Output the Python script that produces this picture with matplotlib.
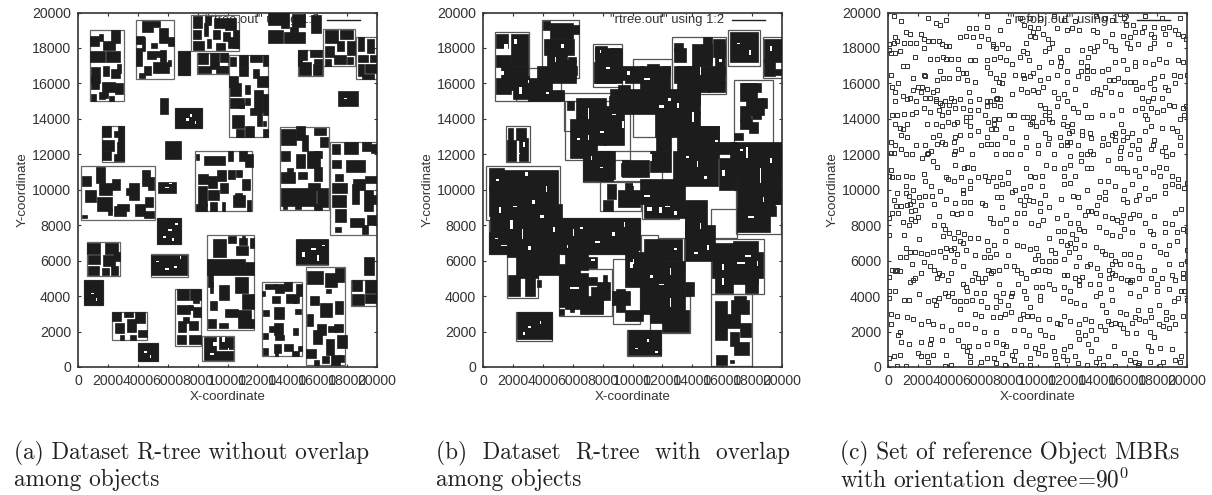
import matplotlib
matplotlib.use('Agg')
import matplotlib.pyplot as plt
from matplotlib.patches import Rectangle
from matplotlib.path import Path

plt.rcParams['font.family'] = ['Liberation Sans', 'DejaVu Sans']
plt.rcParams['mathtext.fontset'] = 'cm'

# all coordinates below are in hundreds of map units
tick_values = [0, 2000, 4000, 6000, 8000, 10000, 12000, 14000, 16000, 18000, 20000]
captions = [
    ['(a) Dataset R-tree without overlap', 'among objects'],
    ['(b)  Dataset  R-tree  with  overlap', 'among objects'],
    ['(c) Set of reference Object MBRs', 'with orientation degree=90$^0$'],
]
legend_labels = ['"rtree.out" using 1:2', '"rtree.out" using 1:2', '"refobj.out" using 1:2']

# (x0, y0, x1, y1)
nodes_a = [
    (8, 150, 30.5, 190), (38.5, 162.5, 64, 195.5), (75.6, 178, 108, 198.5), (67, 165, 75, 178.5),
    (79.6, 165.5, 100.3, 177), (101, 129.5, 127, 176), (147, 164, 163.7, 179), (164, 170, 185, 190.5),
    (186, 162.5, 200, 186), (64.7, 134.7, 82.9, 146), (15.8, 115.5, 31, 136), (2.2, 83, 51.7, 113.6),
    (78.5, 88, 116.4, 122), (135.3, 88.8, 167.7, 135.6), (168.8, 74.7, 200, 127.2), (52.8, 69.5, 69.1, 84.2),
    (5.8, 51.5, 27.9, 70.5), (48.8, 51, 73.4, 63.7), (86.3, 21, 117.5, 74.4), (146, 57.5, 167.2, 71.8),
    (152.5, 1, 178.4, 56.4), (182.6, 34.5, 199.5, 49), (123.3, 6, 149.8, 47.7), (64.7, 11.7, 82, 44.2),
    (4.2, 35, 16.7, 49), (22.5, 15, 45.9, 31), (40, 3.4, 53.5, 13.7), (83.2, 3.4, 104.6, 17.3),
]
# (x, y, w, h)
objects_a = [
    (22, 183, 6, 7), (8, 181, 6, 6), (14, 184, 3, 4), (17, 179, 8, 5), (8, 172, 10, 6), (19, 172, 9, 6),
    (9, 160, 6, 9), (17, 164, 4, 6), (22, 163, 6, 5), (9, 157, 5, 7), (16, 155, 9, 6), (25, 154, 5, 6),
    (9, 150, 3, 4), (14, 151, 4, 4), (21, 150, 3, 3), (26, 166, 3, 5), (17, 152, 3, 3),
    (43, 189, 7, 6), (50, 192, 5, 3), (39, 182, 5, 5), (54, 183, 6, 8), (60, 181, 4, 5), (39, 170, 4, 10),
    (46, 174, 6, 4), (52, 175, 6, 3), (55, 172, 4, 7), (44, 165, 5, 5), (50, 166, 11, 6), (41, 163, 4, 3),
    (43, 178, 2, 8), (49, 180, 4, 3), (60, 170, 2, 3),
    (77, 191, 6, 7), (85, 193, 4, 5), (91, 191, 7, 6), (98, 190, 8, 7), (77, 185, 5, 5), (84, 187, 3, 7),
    (90, 185, 5, 5), (97, 184, 5, 5), (77, 179, 7, 5), (86, 180, 3, 5), (92, 179, 6, 4), (100, 180, 7, 6),
    (104, 180, 4, 10), (67, 165, 8, 13),
    (80, 171, 7, 6), (88, 168, 6, 9), (95, 172, 5, 5), (80, 166, 9, 4), (92, 166, 8, 4), (95, 168, 4, 2),
    (102, 170, 4, 5), (108, 169, 6, 7), (115, 172, 8, 4), (124, 170, 3, 6), (108, 164, 6, 5), (117, 163, 4, 5),
    (120, 158, 7, 6), (102, 153, 7, 7), (112, 154, 3, 5), (102, 146, 9, 6), (118, 144, 6, 12), (124, 142, 3, 12),
    (108, 146, 3, 3), (112, 148, 3, 4), (115, 142, 5, 4), (120, 136, 3, 8), (103, 135, 8, 7), (106, 130, 5, 4),
    (112, 130, 6, 6), (124, 130, 3, 4), (124, 136, 2, 3), (101, 158, 6, 6),
    (127, 193, 9, 7), (136, 191, 5, 9), (143, 192, 9, 7), (127, 183, 10, 7), (138, 183, 14, 6), (142, 189, 5, 3),
    (156, 188.5, 6.5, 10),
    (147, 173, 6, 6), (155, 175, 8, 4), (148, 165, 8, 7), (157, 165, 6, 6), (158, 171, 5, 3), (147, 170, 3, 5),
    (165, 183, 9, 7), (175, 185, 9, 5), (165, 175, 6, 6), (173, 178, 5, 6), (180, 176, 5, 8), (165, 170, 4, 4),
    (171, 171, 8, 5), (180, 171, 4, 4),
    (187, 178, 4, 8), (193, 177, 5, 8), (187, 172, 7, 4), (195, 172, 4, 4), (187, 164, 4, 7), (192, 166, 8, 5),
    (190, 162.5, 8, 3), (174, 147.5, 13, 8), (54.6, 142.5, 5.6, 9), (64.7, 134.7, 18.2, 11.3),
    (16, 130, 6, 6), (24, 130, 4, 3), (27, 126, 4, 10), (16, 122, 8, 6), (26, 120, 5, 7), (16, 117, 6, 5),
    (24, 116, 7, 4), (58.4, 117.4, 10.5, 10.3),
    (3, 102, 6, 6), (12, 104, 6, 9), (14, 97, 9, 7), (23, 100, 5, 6), (32, 97, 3, 4), (34, 94, 7, 10),
    (43, 102, 5, 9), (47, 100, 4, 7), (5, 93, 7, 7), (13, 88, 10, 8), (24, 85, 8, 6), (26, 88, 8, 4),
    (38, 85, 7, 7), (44, 84, 7, 4), (3, 84, 3, 2), (20, 86, 3, 3), (45, 90, 5, 6), (53.3, 98.4, 12.2, 6.2),
    (79, 117, 2, 3), (84, 114, 14, 5), (100, 116, 4, 6), (108, 116, 5, 6), (112, 113, 5, 7), (80, 103, 7, 6),
    (87, 101, 6, 7), (93, 105, 6, 6), (100, 106, 5, 5), (106, 107, 4, 4), (110, 100, 5, 6), (80, 91, 6, 11),
    (87, 94, 7, 6), (95, 98, 5, 6), (79, 88, 7, 4), (88, 88, 5, 5), (96, 88, 2, 5), (104, 90, 8, 7),
    (113, 88, 3, 6), (105, 95, 5, 3),
    (136, 125, 10, 9), (146, 128, 6, 8), (150, 122, 4, 9), (158, 131, 8, 4), (162, 124, 5, 6), (136, 116, 6, 6),
    (146, 112, 6, 8), (153, 112, 9, 10), (158, 118, 5, 4), (136, 104, 9, 6), (147, 106, 6, 4), (158, 105, 5, 8),
    (136, 91, 23, 10), (154, 100, 8, 4), (160, 90, 7, 11), (137, 89, 3, 2), (145, 89, 4, 2), (158, 88.8, 5, 3),
    (140, 108, 4, 4),
    (170, 120, 5, 6), (178, 120, 9, 7), (190, 122, 6, 5), (196, 121, 4, 5), (170, 112, 6, 5), (179, 110, 13, 7),
    (172, 105, 5, 4), (170, 98, 10, 6), (184, 100, 8, 6), (192, 104, 8, 4), (183, 92, 5, 11), (191, 88, 6, 12),
    (170, 90, 9, 7), (172, 82, 7, 7), (182, 79, 9, 5), (193, 80, 6, 6), (194, 92, 5, 5), (172, 76, 4, 3),
    (190, 75, 4, 5),
    (52.8, 69.5, 16.3, 14.7), (6, 64, 9, 6), (18, 64, 9, 6), (7, 58, 8, 5), (17, 57, 8, 6), (24, 60, 4, 5),
    (7, 52, 7, 5), (16, 52, 5, 4), (22, 52, 5, 5), (49, 52, 24, 11),
    (90, 62, 9, 10), (100, 70, 6, 4), (106, 63, 8, 5), (108, 69, 5, 4), (115, 67, 3, 6), (110, 72, 2, 2),
    (86, 52, 26, 9), (112, 52, 6, 7), (87, 45, 3, 8), (94, 38, 7, 8), (105, 42, 9, 9), (110, 33, 8, 8),
    (88, 32, 5, 5), (98, 28, 9, 5), (107, 22, 9, 10), (87, 22, 5, 5), (94, 22, 6, 3), (115, 22, 3, 5),
    (88, 42, 2, 6), (146, 58, 21, 14),
    (153, 47, 11, 7), (165, 45, 8, 8), (172, 48, 6, 8), (155, 35, 6, 5), (166, 42, 3, 2), (162, 28, 8, 8),
    (172, 30, 5, 7), (153, 23, 4, 7), (160, 18, 6, 6), (167, 20, 6, 3), (157, 13, 6, 8), (166, 7, 5, 9),
    (173, 11, 7, 7), (171, 20, 6, 4), (152.5, 5, 7, 5), (158, 1, 3, 3), (163, 2, 5, 4), (169, 1, 6, 6),
    (174, 3, 4, 4), (191, 52, 7.2, 10),
    (183, 43, 7, 6), (192, 42, 8, 7), (183, 35, 8, 6), (192, 36, 8, 5),
    (125, 44, 8, 3), (132, 42, 6, 5), (138, 43, 5, 5), (146, 40, 4, 7), (123, 40, 2, 3), (130, 36, 5, 4),
    (139, 36, 7, 5), (144, 36, 4, 4), (124, 29, 4, 3), (131, 27, 7, 7), (145, 30, 4, 3), (131, 18, 6, 7),
    (128, 20, 4, 3), (132, 15, 6, 3), (124, 16, 3, 3), (144, 18, 3, 4), (131, 8, 5, 5), (138, 9, 6, 4),
    (147, 9, 3, 3), (124, 7, 3, 4), (143, 6, 5, 3), (132, 6, 2, 2),
    (66, 38, 8, 6), (75, 38, 7, 6), (66, 30, 9, 5), (74, 32, 3, 3), (77, 28, 5, 6), (67, 20, 5, 6),
    (74, 21, 6, 5), (66, 13, 6, 5), (74, 13, 8, 5), (70, 25, 4, 3), (77, 36, 4, 2), (4.2, 35, 12.5, 14),
    (23, 26, 6, 5), (31, 28, 6, 3), (38, 25, 7, 6), (25, 19, 6, 6), (33, 20, 6, 7), (40, 17, 6, 4),
    (28, 15, 3, 3), (35, 15, 4, 3), (40, 3.4, 13.5, 10.3), (84, 9, 8, 8), (94, 10, 10, 7), (84, 4, 20, 5),
]
gaps_a = [
    (72, 139, 2, 1.5), (75, 141, 1, 2), (78, 137, 1, 2), (57, 73, 2, 1), (60, 77, 3, 1), (63, 71, 1, 2),
    (65, 80, 2, 1), (52, 59, 2, 1), (58, 55, 3, 1), (68, 61, 1, 1.5), (64, 56, 2, 1), (150, 62, 2, 3),
    (156, 66, 3, 1), (160, 60, 1, 3), (163, 68, 2, 1), (178, 151, 2, 0.8), (58, 101, 3, 0.8), (61, 103, 2, 0.6),
    (90, 12, 3, 2), (96, 14, 2, 3), (100, 9, 1, 2), (88, 7, 3, 1), (44, 8, 2, 1), (48, 5, 1, 2),
    (9, 41, 2, 1), (12, 37, 1, 2),
]

nodes_b = [
    (8.3, 150, 30.6, 189), (39.6, 163, 64, 195.5), (22, 150, 52, 168.5), (73.7, 158, 93, 182),
    (100.6, 130, 126.7, 173.5), (126.7, 154, 162.5, 186), (164, 170, 185, 190), (187, 163, 200, 186),
    (167.6, 100, 193.7, 162), (54, 133, 92, 154.5), (15.6, 115.5, 31.3, 136), (55, 117, 98, 150),
    (67, 104.5, 120, 122), (2.2, 83, 51.4, 113.6), (4, 63.5, 16, 83), (16, 39, 36.6, 63.5),
    (22, 14.5, 46.3, 31), (51, 29, 86, 55.5), (86.7, 24, 105, 61), (96.5, 6, 119.3, 21),
    (112, 19, 138.5, 40), (152.4, 0.5, 180, 41), (152.4, 41, 188, 72.4), (169, 75, 199, 100),
    (52, 64, 105, 84), (78, 88, 106, 105), (106.6, 83.6, 131, 100), (105.5, 60, 117, 74.6),
    (117, 55, 134.6, 73), (152.5, 72.5, 170, 89),
]
objects_b = [
    (9, 180, 8, 8), (19, 170, 11, 18), (9, 169, 10, 7), (12, 160, 18, 10), (9, 154, 10, 9), (16, 156, 15, 8),
    (20, 151, 26, 12), (30, 150, 24, 6), (36, 160, 26, 10), (40, 190, 5, 5), (45, 185, 15, 9), (60, 188, 4, 5),
    (41, 176, 20, 9), (43, 170, 13, 7), (47, 163, 15, 10), (60, 165, 3, 5), (57, 172, 5, 3),
    (16, 116, 6, 12), (22, 128, 7, 7), (24, 116, 6, 13), (17, 128, 3, 7),
    (75, 174, 8, 7), (85, 172, 6, 8), (74, 160, 15, 12), (88, 162, 7, 8), (75, 160, 18, 20),
    (95, 160, 12, 10), (105, 155, 20, 15), (110, 168, 8, 3), (120, 165, 5, 5), (85, 143, 60, 14),
    (115, 130, 30, 14), (128, 172, 8, 8), (128, 178, 6, 5), (140, 170, 13, 12), (154, 175, 8, 10),
    (130, 155, 12, 15), (142, 160, 20, 9), (150, 155, 12, 6), (135, 148, 10, 10), (165, 172, 19, 17),
    (128, 160, 32, 10), (140, 155, 12, 8), (155, 165, 7, 18), (147, 172, 6, 14),
    (188, 172, 12, 13), (188, 164, 7, 10), (195, 165, 5, 3),
    (172, 150, 9, 10), (181, 155, 5, 5), (172, 139, 7, 8), (180, 140, 6, 10), (186, 146, 4, 6), (168, 128, 6, 4),
    (178, 132, 6, 6), (56, 145, 5, 5), (62, 125, 20, 27), (58, 118, 18, 22), (80, 125, 14, 22), (84, 147, 6, 6),
    (173, 152, 10, 8), (176, 142, 12, 10), (172, 134, 8, 6),
    (90, 150, 8, 9), (68, 106, 20, 16), (92, 108, 6, 7), (116, 122, 10, 10), (130, 118, 28, 18), (155, 120, 15, 7),
    (150, 130, 6, 5), (140, 128, 18, 8), (165, 110, 35, 17), (173, 88, 22, 22), (196, 92, 3, 30),
    (67, 105, 20, 17), (80, 88, 7, 6), (90, 90, 15, 10), (83, 95, 6, 8), (95, 100, 5, 4), (93, 107, 18, 10),
    (105, 92, 30, 14), (108, 84, 27, 8), (112, 110, 14, 12), (127, 102, 30, 20), (158, 100, 12, 18),
    (170, 98, 10, 20), (180, 92, 18, 30), (135, 72, 14, 15), (4, 100, 10, 12), (12, 85, 38, 26), (4, 85, 10, 17),
    (46, 64, 58, 19), (170, 76, 22, 22), (192, 85, 4, 6),
    (4, 64, 12, 12), (5, 76, 20, 18), (16, 62, 32, 30), (40, 68, 13, 24), (17, 40, 8, 12), (22, 50, 15, 14),
    (28, 40, 7, 14), (36, 45, 3, 4), (37, 52, 14, 12), (50, 68, 33, 16), (83, 66, 22, 18), (55, 55, 15, 12),
    (70, 56, 6, 6), (51, 34, 14, 24), (65, 30, 15, 9), (72, 38, 9, 7), (58, 31, 3, 3), (51, 29.5, 3, 3),
    (60, 42, 8, 5), (70, 46, 6, 5), (80, 47, 3, 5), (55, 33, 15, 20), (70, 32, 10, 8), (76, 38, 9, 10),
    (89, 31, 6, 13), (95, 45, 25, 20), (105, 30, 30, 30),
    (108, 60, 25, 12), (120, 20, 18, 12), (112, 25, 18, 15), (86, 35, 12, 8), (95, 26, 12, 6),
    (135, 60, 20, 20), (135, 40, 6, 8), (135, 73, 15, 21), (153, 50, 15, 20), (155, 42, 12, 10),
    (167, 47, 17, 24), (180, 50, 7, 15), (175, 42, 9, 8), (155, 15, 8, 22), (162, 22, 10, 8), (166, 30, 12, 8),
    (165, 12, 6, 8), (172, 17, 7, 8), (168, 7, 10, 7), (156, 1, 7, 6), (165, 2, 3, 2), (168, 36, 8, 4),
    (97, 7, 22, 14), (23, 16, 23, 15),
]
gaps_b = [
    (14, 176, 3, 6), (21, 182, 2, 3), (12, 165, 2, 2), (24, 154, 2, 4), (70, 140, 1, 6), (78, 132, 3, 1),
    (63, 128, 2, 1), (118, 146, 3, 2), (140, 138, 1, 6), (176, 118, 1, 6), (185, 104, 1, 8), (160, 108, 2, 3),
    (18, 78, 2, 5), (26, 72, 1, 6), (38, 84, 3, 2), (12, 68, 4, 1), (60, 74, 1, 4), (72, 60, 3, 1),
    (98, 56, 2, 3), (118, 46, 3, 1), (125, 34, 1, 5), (170, 58, 5, 1), (160, 46, 1, 4), (58, 44, 6, 1),
    (110, 88, 3, 2), (118, 87, 2, 3),
    (28, 108, 2, 2), (9, 105, 2, 1), (42, 99, 1, 3), (33, 92, 2, 2), (20, 90, 3, 1), (47, 76, 1, 3),
    (30, 66, 2, 2), (11, 87, 1, 3), (8, 72, 2, 1), (86, 74, 2, 2), (94, 79, 1, 3), (65, 78, 2, 1),
    (75, 70, 3, 1), (56, 67, 1, 2), (125, 52, 1, 4), (112, 50, 2, 2), (100, 58, 1, 3), (128, 66, 2, 1),
    (145, 78, 1, 3), (141, 64, 3, 1), (150, 66, 1, 3), (175, 62, 4, 1), (160, 55, 1, 3), (183, 57, 1, 3),
    (143, 113, 1, 3), (148, 106, 2, 2), (136, 118, 2, 1), (155, 127, 2, 1), (177, 84, 4, 1), (187, 93, 1, 3),
    (192, 115, 1, 3), (172, 122, 2, 1), (108, 96, 4, 1), (122, 90, 3, 1), (128, 86, 2, 2), (100, 102, 1, 2),
    (112, 116, 1, 4), (78, 112, 2, 1), (72, 117, 1, 2), (86, 142, 3, 1), (70, 128, 1, 3), (93, 135, 1, 4),
    (124, 150, 2, 2), (130, 146, 1, 3), (108, 162, 4, 1), (96, 165, 2, 2), (145, 165, 1, 4), (138, 176, 1, 2),
    (158, 172, 2, 2), (170, 182, 2, 1), (178, 176, 1, 3), (192, 178, 1, 3), (82, 168, 3, 1), (78, 177, 1, 2),
    (52, 180, 2, 2), (48, 172, 1, 3), (30, 160, 1, 2), (42, 154, 2, 1), (30, 22, 2, 1), (38, 24, 1, 2),
    (27, 18, 1, 2), (102, 10, 2, 1), (110, 14, 1, 2), (115, 8, 2, 1), (23, 120, 2, 1), (27, 124, 1, 3),
]

# refobj marks: tall ones first, wide ones after
c_tall = [
    (6, 98), (12, 98), (14, 96.5), (21, 96), (25, 96.5), (29.5, 96.5), (35, 99.5), (39, 95), (45, 92.5), (50, 98),
    (51, 93), (55, 93), (63, 92.5), (65, 91.5), (73, 96), (75.5, 96), (83, 98.5), (88, 94), (92, 96.5), (91, 91.5),
    (94, 94), (97, 93.5), (102, 92.5), (105, 97), (108, 90.5), (116, 94.5), (124, 96.5), (127, 96), (141, 96), (145, 99),
    (145, 95), (157, 95), (160, 93), (166, 94), (168, 97), (174, 95), (178, 96.5), (185, 98),
    (3, 87), (7, 87), (15.5, 88), (18, 88.5), (15.5, 83.5), (18, 82.5), (20, 84.5), (14, 80), (10, 82), (0.5, 84),
    (31, 80), (34, 85), (37, 80), (38, 78), (42.5, 87), (46, 86.5), (49, 87), (55, 87), (68, 84), (70, 81),
    (75, 81), (76, 90), (85, 81), (86, 87), (79, 83.5), (79, 77), (95.5, 81), (91, 87), (100, 80), (104, 83),
    (102, 88), (113, 84), (119, 86), (122, 81), (127, 81), (131, 77), (132, 86), (136, 88), (139, 87), (145, 85),
    (150, 84), (153, 83), (156, 82), (157, 86), (162, 84), (164, 86.5), (168, 86), (172, 81), (178, 85), (185, 81),
    (190, 80.5), (197, 78), (200, 77), (192, 87), (196, 89),
    (12, 67), (15, 65), (18, 65), (22, 64.5), (26, 64), (30, 65), (35, 65.5), (39, 67), (42, 66), (44, 67),
    (46, 64), (48, 71), (50, 70), (52, 66), (38, 62), (44, 60), (50, 57), (58, 63), (64, 62), (71, 69),
    (67, 66), (68, 62), (72, 64), (80, 63), (79, 57), (84, 57), (86, 69), (90, 68), (95, 66.5), (99, 67),
    (100, 63), (109, 66), (112, 64.5), (116, 71), (120, 69), (118, 61), (121, 65), (125, 67), (126, 72), (131, 69),
    (128, 62), (135, 58), (139, 67.5), (143, 65.5), (145, 64), (149, 63), (152, 60), (150, 58), (155, 58), (158, 64),
    (162, 64), (168, 62), (170, 69), (178, 68), (182, 65), (186, 64), (188, 69), (193, 71), (200, 66),
    (5, 54), (1, 51), (3, 55), (15, 48), (18, 50), (22, 53), (33, 50), (40, 49), (42, 53), (58, 53),
    (60, 50), (65, 50), (69, 53), (67, 55), (70, 54), (74, 55), (86, 55), (89, 53), (92, 50), (97, 54),
    (100, 55), (105, 55), (108, 54), (120, 52), (125, 50), (128, 49), (130, 51), (142, 52), (148, 50), (150, 53),
    (152, 52), (156, 50), (160, 49), (163, 49), (168, 50), (176, 50), (180, 47), (183, 50), (190, 52), (197, 53),
    (197, 50),
    (1, 39), (11, 38), (14, 38), (21, 41), (27, 37), (31, 38), (32, 35), (34, 39), (40, 40), (44, 37),
    (48, 37), (48, 33), (52, 37), (56, 38), (62, 37), (66, 34), (72, 34), (75, 37), (80, 35), (82, 40),
    (92, 39), (95, 34), (96, 29), (90, 30), (102, 38), (117, 39), (126, 36), (131, 35), (139, 40), (143, 35),
    (150, 38), (146, 31), (155, 31), (159, 30), (165, 28), (167, 32), (175, 32), (181, 35), (186, 31), (191, 37),
    (194, 39), (200, 38),
    (7, 18), (9, 14), (14, 13), (22, 14), (29, 16), (28, 13), (36, 15), (47, 15), (50, 12), (54, 12),
    (60, 12), (66, 13), (72, 14), (77, 13), (79, 12), (85, 9), (92, 12), (98, 11), (100, 8), (103, 12),
    (111, 9), (118, 10), (122, 12), (134, 13), (136, 9), (151, 12), (158, 8), (165, 8), (174, 12), (176, 9),
    (182, 11), (190, 10),
    (4, 198), (9, 195), (27, 197), (32, 194), (35, 193), (12, 189), (39, 196), (54, 191), (59, 191), (66, 192),
    (66, 198), (75, 190), (52, 187), (57, 186), (62, 187), (67, 185), (70, 181), (27, 184), (22, 188), (24, 185),
    (15, 188), (5, 186), (1, 182), (4, 183), (6, 184), (11, 183), (15, 183), (19, 183), (24, 180), (30, 184),
    (34, 184), (36, 182), (39, 181), (41, 181), (48, 186), (61, 181), (70, 182), (72, 180), (76, 182), (80, 180),
    (92, 183), (95, 187), (97, 189), (98, 186), (104, 188), (108, 180), (107, 185), (100, 191), (110, 183), (120, 190),
    (123, 191), (128, 190), (137, 190), (140, 189), (150, 188), (157, 187), (160, 183), (162, 186), (165, 189), (170, 189),
    (176, 188), (178, 186), (185, 188), (192, 190), (194, 188), (197, 187), (199, 185), (188, 182), (178, 183), (175, 180),
    (167, 182), (162, 180), (145, 184), (140, 181), (149, 181), (152, 179),
    (1, 179), (2, 177), (5, 177), (8, 178), (18, 175), (28, 174), (33, 174), (37, 175), (39, 174), (42, 174),
    (47, 174), (55, 173), (58, 173), (66, 173), (71, 174), (75, 175), (79, 173), (83, 171), (88, 175), (90, 178),
    (93, 177), (94, 173), (105, 178), (109, 172), (115, 170), (115, 175), (116, 172), (129, 172), (133, 170), (134, 175),
    (133, 167), (137, 167), (143, 167), (152, 172), (157, 173), (160, 168), (165, 170), (165, 172), (172, 172), (177, 171),
    (181, 174), (186, 172), (194, 173), (197, 172),
    (3, 158), (5, 155), (7, 160), (10, 153), (15, 152), (17, 156), (20, 158), (23, 158), (26, 157), (30, 155),
    (33, 156), (32, 150), (35, 149), (38, 150), (22, 155), (5, 150), (13, 151), (19, 150), (25, 152), (28, 152),
    (32, 151), (42, 152), (44, 150), (48, 151), (54, 155), (55, 150), (61, 151), (66, 150), (70, 156), (72, 151),
    (73, 152), (75, 151), (83, 154), (89, 157), (93, 155), (97, 156), (100, 155), (104, 158), (111, 155), (114, 152),
    (118, 154), (125, 157), (137, 155), (140, 157), (142, 154), (145, 158), (149, 155), (155, 154), (166, 157), (170, 152),
    (174, 150), (177, 152), (178, 157), (183, 152), (187, 156),
    (5, 137), (8, 135), (10, 134), (13, 137), (26, 137), (32, 137), (36, 136), (44, 137), (46, 138), (52, 139),
    (55, 136), (60, 133), (67, 138), (69, 134), (71, 137), (72, 134), (82, 135), (95, 137), (96, 138), (99, 136),
    (103, 138), (110, 138), (117, 137), (120, 136), (123, 133), (130, 133), (135, 132), (156, 137), (152, 132), (157, 133),
    (163, 132), (176, 136), (183, 135), (190, 135), (193, 133), (195, 130),
    (2, 111), (1, 108), (3, 107), (7, 107), (12, 108), (16, 107), (24, 109), (30, 116), (33, 113), (39, 107),
    (45, 114), (51, 112), (53, 113), (57, 112), (49, 107), (55, 105), (60, 107), (65, 108), (70, 107), (75, 107),
    (80, 110), (92, 112), (95, 108), (98, 107), (103, 108), (106, 114), (111, 112), (118, 112), (118, 108), (122, 114),
    (125, 108), (129, 116), (133, 112), (136, 112), (147, 117), (153, 112), (157, 112), (160, 110), (165, 111), (168, 108),
    (172, 112), (177, 110), (181, 113), (182, 108), (186, 112), (190, 108), (194, 106),
]
c_wide = [
    (128, 90.5), (134, 88), (140, 91.5), (4, 94), (5.5, 91), (9, 91), (12.5, 91.5), (15, 92), (17, 93.5), (22, 91.5),
    (30.5, 92), (141, 79), (146, 76), (150, 74.5), (155, 74), (158, 78), (163, 76), (175, 77), (177, 75), (185, 76),
    (193, 76), (108, 73), (114, 76.5), (118, 77), (123, 75), (128, 78), (122, 70), (1, 74.5), (11, 74.5), (21, 72),
    (37, 74), (41, 75.5), (44, 73), (47, 76), (51, 75), (55, 73), (60, 73), (66, 71), (78, 71),
    (8, 62), (12, 62), (16, 58), (24, 59), (28, 57), (31, 55), (34, 53), (36, 52), (8, 54), (6, 55),
    (98, 61), (103, 60), (108, 60), (112, 60), (118, 52), (126, 57), (133, 57), (140, 56), (148, 55), (162, 58),
    (167, 57), (170, 55), (178, 55), (188, 58), (196, 58), (200, 60),
    (1, 43), (5, 43), (17, 49), (50, 47), (56, 49), (63, 48), (74, 47), (87, 47), (91, 43), (99, 45),
    (103, 45), (108, 47), (111, 44), (118, 45), (122, 43), (128, 46), (135, 47), (141, 47), (149, 44), (162, 48),
    (168, 40), (172, 44), (180, 43), (188, 44), (192, 49), (198, 43), (196, 43), (38, 42), (43, 42), (52, 45),
    (53, 43), (59, 42), (64, 42), (72, 40), (77, 42), (83, 42), (102, 40), (122, 37), (142, 42), (162, 42),
    (2, 30), (6, 29), (13, 28), (17, 27), (27, 26), (30, 24), (58, 30), (62, 29), (70, 28), (75, 28),
    (78, 30), (82, 31), (88, 27), (93, 29), (100, 27), (108, 27), (113, 25), (118, 29), (122, 26), (128, 24),
    (132, 27), (136, 26), (142, 23), (147, 26), (152, 25), (155, 24), (163, 25), (168, 27), (172, 26), (176, 28),
    (181, 24), (186, 27), (190, 28), (197, 29), (2, 24), (8, 20), (22, 24), (36, 23), (42, 21), (48, 24),
    (53, 24), (58, 22), (64, 20), (72, 20), (84, 21), (90, 21), (94, 18), (102, 21), (105, 18), (110, 17),
    (115, 24), (127, 20), (128, 16), (132, 18), (136, 21), (139, 16), (145, 21), (149, 24), (157, 22), (160, 19),
    (166, 19), (175, 20), (178, 17), (184, 23), (188, 22), (192, 24),
    (8, 7), (1, 5), (4, 6), (6, 0.5), (12, 0.5), (20, 8), (22, 6), (26, 6), (30, 7), (27, 3),
    (39, 7), (53, 9), (55, 6), (55, 3), (62, 3), (66, 5), (71, 5), (72, 2), (76, 8), (83, 7),
    (84, 4), (78, 1), (89, 1), (95, 1), (95, 5), (105, 7), (112, 5), (117, 6), (120, 4), (125, 6),
    (127, 2), (133, 1), (139, 3), (141, 5), (147, 6), (152, 0.5), (162, 4), (165, 3), (168, 2), (175, 3),
    (184, 3), (192, 4), (195, 3), (196, 6), (38, 0.5), (42, 1), (113, 1), (144, 1), (167, 1), (182, 0.5),
    (120, 179), (130, 179), (135, 180), (138, 178), (88, 197), (95, 197), (102, 197), (111, 198), (118, 196), (125, 195),
    (139, 198), (145, 197), (155, 199), (158, 197), (164, 193), (172, 198), (183, 197), (195, 197), (171, 192), (178, 192),
    (184, 191), (188, 192), (80, 195), (91, 193), (95, 192), (113, 191), (159, 193), (150, 196),
    (2, 165), (10, 170), (13, 170), (17, 163), (24, 165), (25, 164), (35, 167), (33, 162), (37, 163), (41, 163),
    (47, 163), (47, 168), (50, 166), (52, 166), (53, 162), (58, 161), (66, 169), (68, 166), (72, 163), (74, 161),
    (76, 160), (77, 165), (85, 165), (90, 165), (91, 163), (95, 164), (97, 166), (102, 162), (101, 169), (107, 163),
    (113, 165), (120, 167), (120, 161), (127, 164), (129, 167), (133, 163), (147, 168), (148, 162), (151, 162), (154, 163),
    (158, 161), (162, 161), (165, 161), (178, 163), (183, 164), (191, 165), (195, 164), (200, 165), (192, 160), (185, 158),
    (175, 160), (170, 158),
    (3, 142), (6, 142), (11, 143), (16, 143), (19, 144), (24, 146), (28, 144), (34, 145), (36, 148), (41, 148),
    (40, 144), (45, 146), (50, 146), (55, 145), (60, 145), (66, 147), (68, 150), (71, 148), (75, 147), (102, 148),
    (105, 146), (108, 144), (113, 147), (120, 150), (124, 146), (127, 144), (132, 148), (150, 142), (156, 145), (165, 145),
    (170, 146), (172, 142), (176, 146), (180, 144), (184, 145), (188, 148), (191, 147), (197, 146), (199, 147), (198, 142),
    (36, 142), (40, 138), (52, 141), (55, 141), (65, 142), (71, 140), (74, 140), (81, 142), (84, 142), (90, 141),
    (93, 141), (97, 141), (105, 142), (108, 140), (118, 141), (123, 137), (133, 141), (136, 141), (143, 142), (173, 140),
    (195, 140),
    (13, 130), (9, 131), (30, 130), (34, 131), (45, 130), (48, 131), (55, 131), (66, 130), (105, 132), (108, 129),
    (115, 130), (120, 127), (121, 132), (130, 131), (136, 129), (144, 129), (150, 131), (157, 128), (160, 130), (168, 128),
    (172, 133), (178, 128), (2, 127), (5, 125), (19, 125), (25, 125), (33, 126), (36, 127), (44, 127), (62, 125),
    (66, 126), (69, 126), (73, 126), (78, 130), (83, 127), (92, 130), (100, 125), (107, 126), (116, 125), (120, 125),
    (122, 127), (127, 125), (135, 122), (143, 125), (147, 126), (152, 128), (155, 122), (156, 124), (163, 125), (167, 123),
    (177, 125), (185, 124), (195, 125), (2, 121), (4, 121), (9, 123), (12, 120), (16, 120), (23, 118), (26, 120),
    (27, 121), (29, 122), (38, 126), (45, 122), (44, 120), (49, 123), (56, 120), (72, 120), (78, 120), (82, 120),
    (88, 120), (92, 124), (100, 121), (111, 120), (122, 119), (129, 120), (133, 120), (137, 120), (155, 118), (162, 120),
    (168, 118), (176, 123), (183, 122), (186, 119), (190, 120),
    (12, 102), (17, 100), (25, 105), (29, 102), (40, 106), (44, 105), (50, 100), (55, 101), (67, 105), (72, 102),
    (76, 103), (80, 104), (85, 100), (90, 101), (95, 102), (103, 102), (118, 103), (122, 104), (133, 100), (142, 105),
    (147, 105), (152, 102), (158, 100), (163, 103), (172, 101), (185, 102), (190, 103), (194, 102), (198, 101), (200, 104),
]

W, H = 1212, 495
TEXT = '#333333'
BLACK = '#1c1c1c'


def add_boxes(ax, boxes, **kw):
    for x, y, w, h in boxes:
        ax.add_patch(Rectangle((x * 100, y * 100), w * 100, h * 100, **kw))


def setup_axes(left, label):
    ax = fig.add_axes([left / W, 1 - 367 / H, 299 / W, 354.5 / H])
    ax.set_xlim(0, 20000)
    ax.set_ylim(0, 20000)
    ax.set_xticks(tick_values)
    ax.set_yticks(tick_values)
    ax.tick_params(direction='in', length=2.5, width=0.8, top=True, right=True,
                   labelsize=10.2, colors=TEXT, pad=5)
    for s in ax.spines.values():
        s.set_linewidth(1.2)
        s.set_color('#333333')
    ax.set_xlabel('X-coordinate', fontsize=9.6, color=TEXT, labelpad=2)
    ax.set_ylabel('Y-coordinate', fontsize=9.6, color=TEXT, labelpad=2)
    # gnuplot key
    ax.text(16150, 19600, label, ha='right', va='center', fontsize=9.4, color=TEXT, zorder=1)
    ax.plot([16650, 18850], [19600, 19600], color='#222222', lw=1, zorder=1)
    return ax


fig = plt.figure(figsize=(W / 100, H / 100), dpi=100)

ax_a = setup_axes(78, legend_labels[0])
for x0, y0, x1, y1 in nodes_a:
    ax_a.add_patch(Rectangle((x0 * 100, y0 * 100), (x1 - x0) * 100, (y1 - y0) * 100,
                             fill=False, ec='#666666', lw=0.9, zorder=2))
add_boxes(ax_a, objects_a, fc=BLACK, ec=BLACK, lw=0.5, zorder=3)
add_boxes(ax_a, gaps_a, fc='white', ec='none', zorder=4)

ax_b = setup_axes(483, legend_labels[1])
for x0, y0, x1, y1 in nodes_b:
    ax_b.add_patch(Rectangle((x0 * 100, y0 * 100), (x1 - x0) * 100, (y1 - y0) * 100,
                             fill=False, ec='#555555', lw=0.9, zorder=2))
add_boxes(ax_b, objects_b, fc=BLACK, ec=BLACK, lw=0.5, zorder=3)
add_boxes(ax_b, gaps_b, fc='white', ec='none', zorder=4)

ax_c = setup_axes(888, legend_labels[2])
tall = Path([(-0.35, -0.5), (0.35, -0.5), (0.35, 0.5), (-0.35, 0.5), (-0.35, -0.5)], closed=True)
wide = Path([(-0.5, -0.35), (0.5, -0.35), (0.5, 0.35), (-0.5, 0.35), (-0.5, -0.35)], closed=True)
for pts, mark in ((c_tall, tall), (c_wide, wide)):
    ax_c.plot([p[0] * 100 for p in pts], [p[1] * 100 for p in pts], ls='none', marker=mark,
              ms=3.3, mfc='none', mec='#333333', mew=0.7, zorder=3, clip_on=True)

for (line1, line2), x in zip(captions, (14, 436, 840)):
    fig.text(x / W, 1 - 453 / H, line1, family='cmr10', fontsize=16.8, color='#222222', va='center')
    fig.text(x / W, 1 - 480 / H, line2, family='cmr10', fontsize=16.8, color='#222222', va='center')

fig.savefig('out.png', dpi=100)
